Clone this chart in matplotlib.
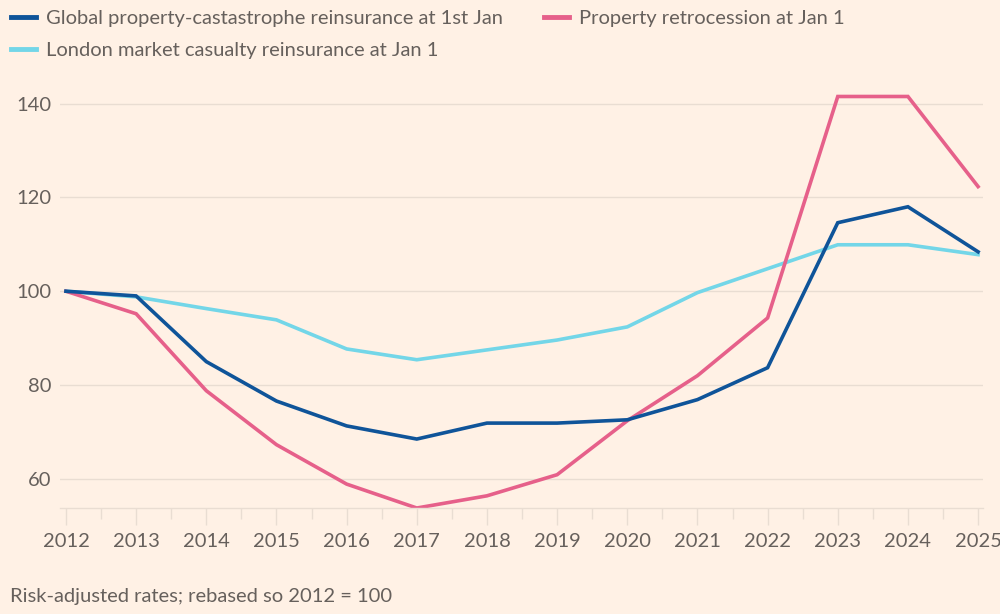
import matplotlib
matplotlib.use('Agg')
import matplotlib.pyplot as plt
from matplotlib.ticker import MultipleLocator

# --- data ---
years = list(range(2012, 2026))
property_cat = [100, 99.0, 85.0, 76.6, 71.3, 68.5, 71.9, 71.9, 72.6, 76.9, 83.7, 114.6, 118.0, 108.4]
retrocession = [100, 95.2, 78.8, 67.3, 58.9, 53.8, 56.4, 60.9, 72.4, 82.0, 94.3, 141.5, 141.5, 122.3]
casualty = [100, 98.8, 96.3, 93.9, 87.7, 85.4, 87.5, 89.6, 92.4, 99.7, 104.8, 109.9, 109.9, 107.8]
y_ticks = [60, 80, 100, 120, 140]

label_cat = 'Global property-castastrophe reinsurance at 1st Jan'
label_retro = 'Property retrocession at Jan 1'
label_cas = 'London market casualty reinsurance at Jan 1'
caption = 'Risk-adjusted rates; rebased so 2012 = 100'

# --- style ---
BG = '#fff1e5'
GRID = '#e9ddd2'
TEXT = '#66605c'
BLUE = '#0f5499'
PINK = '#e6608a'
CYAN = '#73d6e8'
FS = 14.5

plt.rcParams['font.family'] = ['Lato', 'DejaVu Sans']

fig = plt.figure(figsize=(10, 6.14), dpi=100, facecolor=BG)
ax = fig.add_axes([0.060, 0.1726, 0.923, 0.697])
ax.set_facecolor(BG)

l_cas, = ax.plot(years, casualty, color=CYAN, lw=2.6, solid_joinstyle='miter', label=label_cas)
l_retro, = ax.plot(years, retrocession, color=PINK, lw=2.6, solid_joinstyle='miter', label=label_retro)
l_cat, = ax.plot(years, property_cat, color=BLUE, lw=2.6, solid_joinstyle='miter', label=label_cat)

ax.set_xlim(2011.915, 2025.07)
ax.set_ylim(53.8, 145)

ax.set_yticks(y_ticks)
ax.yaxis.grid(True, color=GRID, lw=1)
ax.set_axisbelow(True)
ax.tick_params(axis='y', length=0, pad=6, labelsize=FS, labelcolor=TEXT)

ax.set_xticks(years)
ax.xaxis.set_minor_locator(MultipleLocator(0.5))
ax.tick_params(axis='x', which='major', length=12, width=1, color=GRID,
               pad=6, labelsize=FS, labelcolor=TEXT)
ax.tick_params(axis='x', which='minor', length=8, width=1, color=GRID)

for side in ['top', 'right', 'left']:
    ax.spines[side].set_visible(False)
ax.spines['bottom'].set_color(GRID)
ax.spines['bottom'].set_linewidth(1)

leg = fig.legend(handles=[l_cat, l_cas, l_retro], loc='upper left',
                 bbox_to_anchor=(0.004, 0.996), ncol=2, frameon=False,
                 fontsize=FS, labelcolor=TEXT, handlelength=1.25,
                 handletextpad=0.5, columnspacing=2.0, labelspacing=0.75,
                 borderaxespad=0.15, borderpad=0.2)
for h in leg.legend_handles:
    h.set_linewidth(3.5)

fig.text(0.010, 0.028, caption, fontsize=FS, color=TEXT, ha='left', va='center')

fig.savefig('out.png', dpi=100, facecolor=BG)
